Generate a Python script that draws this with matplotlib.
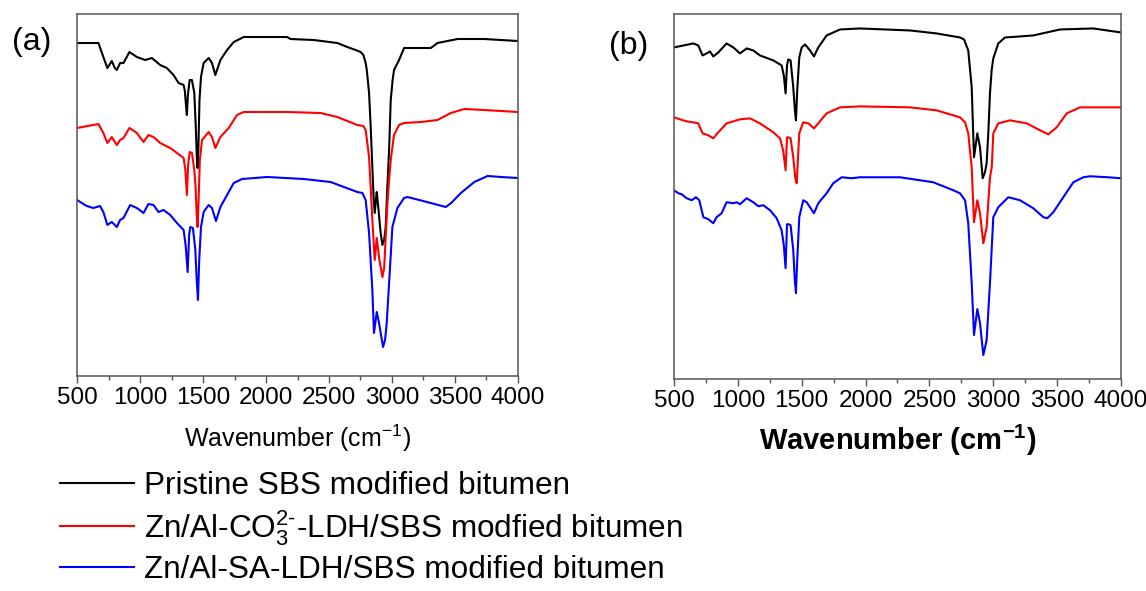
import numpy as np
import matplotlib
matplotlib.use('Agg')
import matplotlib.pyplot as plt

plt.rcParams['font.family'] = ['Liberation Sans', 'DejaVu Sans']
plt.rcParams['mathtext.fontset'] = 'custom'
plt.rcParams['mathtext.rm'] = 'Liberation Sans'
plt.rcParams['mathtext.it'] = 'Liberation Sans:italic'
plt.rcParams['mathtext.bf'] = 'Liberation Sans:bold'

# FTIR spectra, transmittance in arbitrary units (offset curves)
# panel (a)
wn_a_black = [500, 670, 709, 741, 776, 800, 816, 842, 869, 916, 975, 1041, 1094, 1160, 1213, 1266, 1306,
              1346, 1355, 1365, 1372, 1380, 1394, 1412, 1431, 1442, 1452, 1457, 1463, 1472, 1484, 1505,
              1545, 1571, 1598, 1638, 1691, 1744, 1823, 1956, 2168, 2194, 2380, 2566, 2645, 2711, 2751,
              2773, 2791, 2800, 2818, 2832, 2844, 2855, 2863, 2872, 2879, 2893, 2910, 2924, 2938, 2950,
              2962, 2977, 2990, 3005, 3016, 3056, 3096, 3308, 3361, 3520, 3732, 3998]
t_a_black = [333, 333, 319, 308, 315, 308, 306, 313, 313, 324, 319, 316, 318, 311, 308, 301, 293,
             291, 286, 271, 261, 281, 296, 296, 283, 251, 216, 208, 226, 276, 299, 313,
             318, 313, 301, 316, 326, 334, 339, 339, 339, 337, 336, 333, 329, 326, 324,
             321, 313, 306, 283, 246, 209, 176, 163, 176, 184, 166, 143, 131, 136, 149,
             186, 226, 276, 296, 306, 316, 328, 328, 333, 337, 337, 335]

wn_a_red = [500, 670, 709, 741, 776, 816, 842, 869, 916, 975, 1028, 1067, 1107, 1160, 1240, 1293, 1346,
            1360, 1372, 1382, 1394, 1412, 1431, 1441, 1450, 1457, 1465, 1475, 1492, 1545, 1571, 1598,
            1638, 1704, 1770, 1823, 2168, 2433, 2566, 2725, 2773, 2791, 2818, 2832, 2844, 2863, 2879,
            2900, 2924, 2938, 2950, 2963, 2977, 2990, 3016, 3056, 3096, 3230, 3361, 3467, 3573, 3732, 3998]
t_a_red = [248, 252, 243, 233, 239, 231, 236, 238, 248, 243, 234, 241, 239, 233, 228, 223, 218,
           206, 181, 211, 224, 223, 206, 189, 161, 149, 176, 216, 236, 244, 239, 228,
           239, 248, 261, 264, 264, 263, 259, 251, 250, 246, 219, 186, 156, 116, 138,
           116, 99, 108, 139, 171, 196, 216, 241, 251, 253, 254, 256, 263, 267, 266, 264]

wn_a_blue = [500, 577, 630, 683, 709, 741, 776, 816, 842, 869, 922, 975, 1028, 1067, 1107, 1147, 1187,
             1240, 1293, 1346, 1362, 1378, 1390, 1399, 1420, 1439, 1450, 1460, 1470, 1484, 1505, 1545,
             1571, 1603, 1638, 1691, 1744, 1810, 2009, 2300, 2513, 2618, 2725, 2765, 2791, 2818, 2844,
             2857, 2879, 2897, 2929, 2945, 2958, 2977, 3003, 3043, 3096, 3123, 3308, 3427, 3470, 3547,
             3653, 3759, 3865, 3998]
t_a_blue = [176, 170, 168, 170, 164, 151, 154, 149, 156, 158, 171, 168, 163, 172, 171, 164, 166,
            161, 153, 146, 131, 104, 141, 149, 148, 126, 96, 76, 116, 149, 164, 171,
            168, 155, 169, 181, 193, 197, 199, 197, 194, 189, 184, 183, 176, 143, 86,
            43, 64, 53, 29, 36, 53, 93, 149, 168, 178, 179, 173, 169, 173, 183,
            194, 200, 199, 198]

# panel (b)
wn_b_black = [500, 651, 690, 724, 756, 782, 808, 847, 912, 965, 1017, 1069, 1121, 1173, 1278, 1343, 1360,
              1374, 1385, 1395, 1413, 1434, 1447, 1455, 1465, 1481, 1500, 1526, 1565, 1596, 1630, 1695,
              1800, 1956, 2348, 2557, 2739, 2771, 2804, 2831, 2849, 2875, 2896, 2917, 2935, 2948, 2962,
              2974, 2987, 3000, 3039, 3092, 3209, 3313, 3418, 3522, 3783, 4000]
t_b_black = [332, 336, 334, 324, 326, 328, 323, 327, 336, 332, 326, 331, 329, 324, 319, 314, 304,
             286, 314, 320, 319, 292, 269, 259, 289, 322, 332, 335, 329, 323, 332, 344,
             350, 351, 349, 346, 342, 340, 329, 292, 222, 246, 232, 201, 207, 216, 249,
             286, 309, 321, 336, 342, 343, 344, 347, 350, 351, 347]

wn_b_red = [500, 547, 599, 651, 690, 724, 769, 808, 847, 912, 1017, 1095, 1173, 1278, 1330, 1355, 1374,
            1385, 1395, 1413, 1434, 1450, 1461, 1470, 1481, 1512, 1552, 1596, 1630, 1695, 1800, 1956,
            2348, 2557, 2739, 2779, 2804, 2831, 2849, 2875, 2896, 2922, 2948, 2974, 2988, 3000, 3039,
            3131, 3262, 3366, 3431, 3496, 3575, 3679, 3800, 4000]
t_b_red = [262, 260, 258, 257, 256, 246, 244, 241, 247, 256, 260, 261, 256, 247, 241, 229, 209,
           242, 242, 241, 222, 201, 196, 219, 246, 257, 256, 251, 256, 266, 272, 273,
           272, 269, 262, 257, 246, 212, 157, 179, 166, 136, 152, 202, 212, 246, 256,
           259, 256, 249, 245, 252, 266, 272, 272, 272]

wn_b_blue = [500, 534, 560, 599, 639, 672, 698, 730, 769, 808, 834, 873, 912, 965, 991, 1017, 1069,
             1121, 1160, 1199, 1252, 1304, 1343, 1360, 1374, 1385, 1395, 1413, 1434, 1446, 1455, 1465,
             1481, 1512, 1539, 1596, 1630, 1695, 1747, 1813, 1891, 1956, 2270, 2530, 2687, 2739, 2779,
             2804, 2831, 2849, 2875, 2896, 2922, 2948, 2974, 3000, 3039, 3118, 3209, 3313, 3392, 3423,
             3470, 3522, 3627, 3705, 3757, 3900, 4000]
t_b_blue = [189, 186, 185, 181, 179, 182, 179, 162, 160, 156, 162, 166, 177, 176, 177, 175, 181,
            177, 173, 174, 169, 161, 149, 134, 111, 155, 155, 154, 129, 99, 86, 119,
            162, 179, 177, 166, 176, 186, 196, 202, 201, 202, 202, 197, 189, 186, 179,
            156, 96, 44, 70, 56, 24, 39, 96, 162, 172, 182, 179, 171, 162, 161,
            167, 177, 197, 202, 203, 202, 201]

labels = ['Pristine SBS modified bitumen',
          'Zn/Al-CO$\\mathregular{_3^{2\\text{-}}}$-LDH/SBS modfied bitumen',
          'Zn/Al-SA-LDH/SBS modified bitumen']
colors = ['black', '#ff0000', '#0000ff']
xticks = [500, 1000, 1500, 2000, 2500, 3000, 3500, 4000]

fig = plt.figure(figsize=(11.46, 5.91), dpi=100)
ax1 = fig.add_axes([0.0672, 0.3638, 0.3848, 0.6125])
ax2 = fig.add_axes([0.5881, 0.3587, 0.3901, 0.6168])

lines = []
for wn, t, c, lab in zip([wn_a_black, wn_a_red, wn_a_blue], [t_a_black, t_a_red, t_a_blue], colors, labels):
    l, = ax1.plot(wn, t, color=c, lw=1.5, label=lab)
    lines.append(l)
for wn, t, c in zip([wn_b_black, wn_b_red, wn_b_blue], [t_b_black, t_b_red, t_b_blue], colors):
    ax2.plot(wn, t, color=c, lw=1.5)

ax1.set_ylim(0, 362)
ax2.set_ylim(0, 365)

for ax in [ax1, ax2]:
    ax.set_xlim(500, 4000)
    ax.set_xticks(xticks)
    ax.set_xticks(np.arange(750, 4000, 500), minor=True)
    ax.set_yticks([])
    ax.tick_params(axis='x', which='major', length=5, width=1, color='#555555', labelsize=17.5, pad=3)
    ax.tick_params(axis='x', which='minor', length=3, width=1, color='#555555')
    for s in ax.spines.values():
        s.set_color('#555555')
        s.set_linewidth(1.1)

ax1.set_xlabel('Wavenumber (cm$^{-1}$)', fontsize=18, labelpad=10)
ax2.set_xlabel('Wavenumber (cm$^{\\mathbf{-1}}$)', fontsize=21, fontweight='bold', labelpad=8)

fig.text(32 / 1146, 1 - 42 / 591, '(a)', fontsize=23, ha='center', va='center')
fig.text(629 / 1146, 1 - 46 / 591, '(b)', fontsize=23, ha='center', va='center')

fig.legend(handles=lines, loc='upper left', bbox_to_anchor=(60 / 1146, 1 - 471 / 591),
           frameon=False, fontsize=22.7, handlelength=2.35, handletextpad=0.3,
           labelspacing=0.22, borderpad=0, borderaxespad=0)

plt.savefig('out.png', dpi=100)
